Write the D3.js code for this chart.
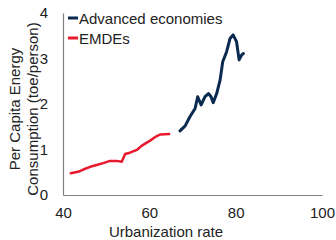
<!DOCTYPE html>
<html>
<head>
<meta charset="utf-8">
<script src="https://cdn.jsdelivr.net/npm/d3@7"></script>
<style>
  html, body { margin: 0; padding: 0; background: #fff; }
  svg text { font-family: "Liberation Sans", Arial, sans-serif; }
</style>
</head>
<body>
<svg id="chart" width="336" height="240"></svg>
<script>
// urbanization rate (%) and per capita energy use (toe/person)
const emdeUrban = [41.8, 43.5, 44.7, 46.3, 47.8, 49.3, 50.9, 52.4, 53.6, 54.4, 55.5, 57.1, 58.2, 59.4, 60.1, 61.3, 62.5, 64.6];
const emdeEnergy = [0.48, 0.51, 0.56, 0.62, 0.66, 0.70, 0.75, 0.75, 0.73, 0.90, 0.93, 0.99, 1.08, 1.15, 1.19, 1.27, 1.33, 1.34];

const advUrban = [67.1, 68.3, 69.4, 70.6, 71.2, 72.0, 72.9, 73.7, 74.3, 74.8, 75.6, 76.4, 77.0, 77.9, 78.7, 79.4, 80.2, 80.8, 81.4, 81.8];
const advEnergy = [1.41, 1.52, 1.72, 1.90, 2.16, 1.98, 2.16, 2.23, 2.16, 2.03, 2.23, 2.53, 2.93, 3.15, 3.44, 3.52, 3.37, 2.97, 3.08, 3.11];

const xTicks = [40, 60, 80, 100];
const yTicks = [0, 1, 2, 3, 4];

const seriesNames = ["Advanced economies", "EMDEs"];
const seriesColors = ["#0b2a4f", "#e8192c"];

const svg = d3.select("#chart");
const plot = {left: 63, right: 322, top: 13, bottom: 195};

const x = d3.scaleLinear().domain([40, 100]).range([plot.left, plot.right]);
const y = d3.scaleLinear().domain([0, 4]).range([plot.bottom, plot.top]);

// axes
const gx = svg.append("g")
  .attr("transform", `translate(0,${plot.bottom})`)
  .call(d3.axisBottom(x).tickValues(xTicks).tickFormat(d3.format("d")).tickSize(0).tickPadding(12));
const gy = svg.append("g")
  .attr("transform", `translate(${plot.left},0)`)
  .call(d3.axisLeft(y).tickValues(yTicks).tickFormat(d3.format("d")).tickSize(0).tickPadding(15));

[gx, gy].forEach(g => {
  g.select(".domain").attr("stroke", "#808080").attr("stroke-width", 1.2);
  g.selectAll("text").attr("font-size", 15).attr("fill", "#222")
    .style("font-family", "'Liberation Sans', Arial, sans-serif");
});

// axis titles
svg.append("text")
  .attr("x", 166).attr("y", 237)
  .attr("text-anchor", "middle")
  .attr("font-size", 15).attr("fill", "#222")
  .text("Urbanization rate");

const ytitle = svg.append("text")
  .attr("transform", "translate(0,109) rotate(-90)")
  .attr("text-anchor", "middle")
  .attr("font-size", 15).attr("fill", "#222");
ytitle.append("tspan").attr("x", 0).attr("y", 20).text("Per Capita Energy");
ytitle.append("tspan").attr("x", 0).attr("y", 38).text("Consumption (toe/person)");

// lines
const line = d3.line()
  .x(d => x(d[0]))
  .y(d => y(d[1]));

svg.append("path")
  .datum(emdeUrban.map((u, i) => [u, emdeEnergy[i]]))
  .attr("fill", "none")
  .attr("stroke", seriesColors[1])
  .attr("stroke-width", 2.5)
  .attr("stroke-linejoin", "round")
  .attr("stroke-linecap", "round")
  .attr("d", line);

svg.append("path")
  .datum(advUrban.map((u, i) => [u, advEnergy[i]]))
  .attr("fill", "none")
  .attr("stroke", seriesColors[0])
  .attr("stroke-width", 3)
  .attr("stroke-linejoin", "round")
  .attr("stroke-linecap", "round")
  .attr("d", line);

// legend
seriesNames.forEach((name, i) => {
  const ly = 18 + i * 20;
  svg.append("line")
    .attr("x1", 68).attr("x2", 78)
    .attr("y1", ly).attr("y2", ly)
    .attr("stroke", seriesColors[i]).attr("stroke-width", 3);
  svg.append("text")
    .attr("x", 79).attr("y", ly + 5.5)
    .attr("font-size", 15).attr("fill", "#222")
    .text(name);
});
</script>
</body>
</html>
